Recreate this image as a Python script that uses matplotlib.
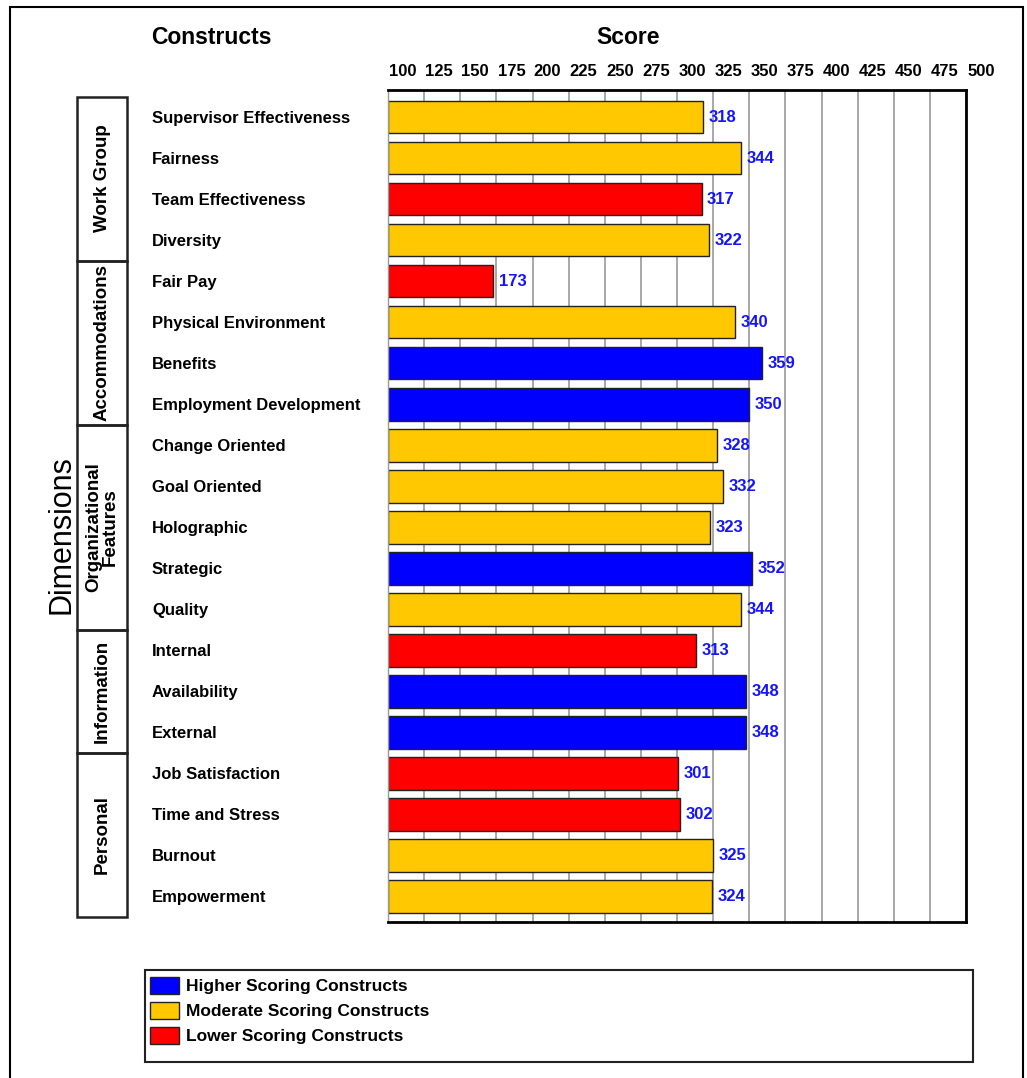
import numpy as np
import matplotlib
matplotlib.use("Agg")
import matplotlib.pyplot as plt
import matplotlib.transforms as mtransforms
from matplotlib.patches import Rectangle, Patch

plt.rcParams['font.family'] = ['Liberation Sans', 'DejaVu Sans']

constructs = ["Supervisor Effectiveness", "Fairness", "Team Effectiveness", "Diversity",
              "Fair Pay", "Physical Environment", "Benefits", "Employment Development",
              "Change Oriented", "Goal Oriented", "Holographic", "Strategic", "Quality",
              "Internal", "Availability", "External",
              "Job Satisfaction", "Time and Stress", "Burnout", "Empowerment"]
scores = [318, 344, 317, 322,
          173, 340, 359, 350,
          328, 332, 323, 352, 344,
          313, 348, 348,
          301, 302, 325, 324]
# H = higher, M = moderate, L = lower scoring
levels = ["M", "M", "L", "M",
          "L", "M", "H", "H",
          "M", "M", "M", "H", "M",
          "L", "H", "H",
          "L", "L", "M", "M"]
dimensions = ["Work Group", "Accommodations", "Organizational\nFeatures", "Information", "Personal"]
dim_sizes = [4, 4, 5, 3, 4]
score_ticks = list(range(100, 501, 25))

level_colors = {"H": "#0000ff", "M": "#ffc800", "L": "#ff0000"}
legend_labels = {"H": "Higher Scoring Constructs", "M": "Moderate Scoring Constructs",
                 "L": "Lower Scoring Constructs"}

W, H = 1027, 1078
fig = plt.figure(figsize=(W / 100, H / 100), dpi=100)
ax = fig.add_axes([388 / W, 1 - 922 / H, (966 - 388) / W, (922 - 90) / H])

y = np.arange(len(constructs))
ax.barh(y, np.array(scores) - 100, left=100, height=0.8,
        color=[level_colors[l] for l in levels], edgecolor="#222222", linewidth=1, zorder=2)

for yi, s in zip(y, scores):
    ax.annotate(str(s), (s, yi), xytext=(4, 0), textcoords="offset points",
                va="center", ha="left", color="#1414ff", fontsize=12, fontweight="bold")

ax.set_xlim(100, 500)
ax.set_ylim(19.63, -0.66)
ax.set_xticks(score_ticks)
ax.xaxis.tick_top()
ax.tick_params(axis="x", length=0, pad=8, labelsize=12)
shift = mtransforms.ScaledTranslation(0.15, 0, fig.dpi_scale_trans)
for lab in ax.get_xticklabels():
    lab.set_fontweight("bold")
    lab.set_transform(lab.get_transform() + shift)

ax.set_yticks(y)
ax.set_yticklabels(constructs, ha="left", fontsize=12, fontweight="bold")
ax.tick_params(axis="y", length=0, pad=170)

ax.grid(axis="x", color="#999999", linewidth=1.2, zorder=0)
ax.set_axisbelow(True)
for side in ["top", "right", "bottom"]:
    ax.spines[side].set_linewidth(2)
    ax.spines[side].set_color("black")
ax.spines["left"].set_color("#999999")
ax.spines["left"].set_linewidth(1)

fig.text(151 / W, 1 - 38 / H, "Constructs", fontsize=16.5, fontweight="bold", va="center", ha="left")
fig.text(628 / W, 1 - 38 / H, "Score", fontsize=16.5, fontweight="bold", va="center", ha="center")

# dimension boxes down the left side
trans = mtransforms.blended_transform_factory(fig.transFigure, ax.transData)
bx0, bx1 = 77 / W, 127 / W
start = -0.5
for name, n in zip(dimensions, dim_sizes):
    ax.add_patch(Rectangle((bx0, start), bx1 - bx0, n, transform=trans, fill=False,
                           edgecolor="#222222", linewidth=1.8, clip_on=False))
    ax.text((bx0 + bx1) / 2, start + n / 2, name, transform=trans, rotation=90,
            ha="center", va="center", fontsize=13.5, fontweight="bold",
            linespacing=0.9, multialignment="center")
    start += n

fig.text(62 / W, 1 - 535 / H, "Dimensions", rotation=90, fontsize=22, ha="center", va="center")

# legend with its own frame
fig.patches.append(Rectangle((145 / W, 1 - 1062 / H), (973 - 145) / W, (1062 - 970) / H,
                             transform=fig.transFigure, fill=False, edgecolor="#222222",
                             linewidth=1.5))
handles = [Patch(facecolor=level_colors[k], edgecolor="#222222", label=legend_labels[k])
           for k in ["H", "M", "L"]]
leg = fig.legend(handles=handles, loc="upper left", bbox_to_anchor=(150 / W, 1 - 977 / H),
                 frameon=False, fontsize=12.5, handlelength=1.65, handleheight=1.15,
                 handletextpad=0.4, labelspacing=0.42, borderpad=0, borderaxespad=0)
for t in leg.get_texts():
    t.set_fontweight("bold")

# outer frame
fig.patches.append(Rectangle((10 / W, -0.01), (1023 - 10) / W, 1.01 - 7 / H,
                             transform=fig.transFigure, fill=False, edgecolor="black",
                             linewidth=1.5))

fig.savefig("out.png", dpi=100)
